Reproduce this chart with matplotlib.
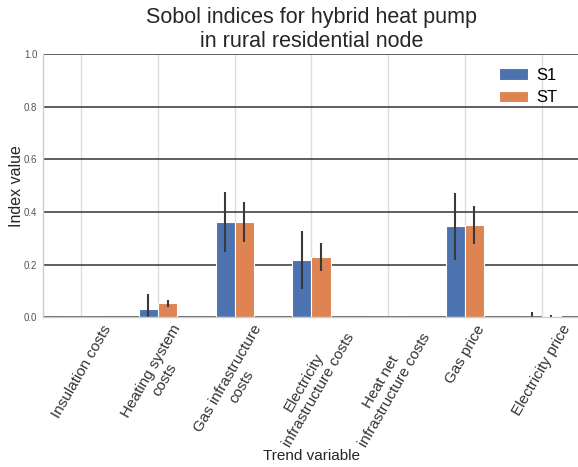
import numpy as np
import matplotlib
matplotlib.use("Agg")
import matplotlib.pyplot as plt

categories = ["Insulation costs", "Heating system\ncosts", "Gas infrastructure\ncosts",
              "Electricity\ninfrastructure costs", "Heat net\ninfrastructure costs",
              "Gas price", "Electricity price"]
s1 = [0.0, 0.032, 0.362, 0.217, 0.0, 0.345, 0.001]
s1_err = [0.0, 0.055, 0.114, 0.109, 0.0, 0.126, 0.019]
st = [0.0, 0.052, 0.362, 0.229, 0.0, 0.349, 0.004]
st_err = [0.0, 0.014, 0.077, 0.052, 0.0, 0.072, 0.003]
yticks = [0.0, 0.2, 0.4, 0.6, 0.8, 1.0]

plt.rcParams['font.family'] = ['Liberation Sans', 'DejaVu Sans']

fig = plt.figure(figsize=(5.78, 4.67), dpi=100)
ax = fig.add_axes([0.0744, 0.321, 0.929, 0.563])

x = np.arange(len(categories))
w = 0.25
ekw = dict(ecolor='#3a3a3a', elinewidth=1.5, capsize=0, zorder=2.2)
ax.bar(x - w / 2, s1, w, yerr=s1_err, color='#4C72B0', edgecolor='white', linewidth=0.8,
       label='S1', error_kw=ekw, zorder=2)
ax.bar(x + w / 2, st, w, yerr=st_err, color='#DD8452', edgecolor='white', linewidth=0.8,
       label='ST', error_kw=ekw, zorder=2)

ax.set_xlim(-0.5, len(categories) - 0.5)
ax.set_ylim(0, 1.0)
ax.set_yticks(yticks)
ax.set_yticklabels([f"{v:.1f}" for v in yticks], fontsize=7, color='#555555')
ax.set_xticks(x)
ax.set_xticklabels(categories, rotation=60, ha='center', fontsize=11, color='#333333',
                   multialignment='center')
ax.tick_params(length=0, pad=4)

ax.set_axisbelow(True)
ax.xaxis.grid(True, color='#dddddd', linewidth=1)
ax.yaxis.grid(True, color='#333333', linewidth=1.1)

for side in ['top', 'right']:
    ax.spines[side].set_visible(False)
for side in ['left', 'bottom']:
    ax.spines[side].set_color('#cccccc')
    ax.spines[side].set_linewidth(1)
    ax.spines[side].set_zorder(3)

ax.set_title("Sobol indices for hybrid heat pump\nin rural residential node", fontsize=15.5,
             color='#262626', linespacing=1.2, pad=5)
ax.set_ylabel("Index value", fontsize=11.5, color='#262626', labelpad=0)
ax.set_xlabel("Trend variable", fontsize=11, color='#262626', labelpad=0)

ax.legend(loc='upper right', frameon=False, fontsize=12, handlelength=1.75,
          handletextpad=0.45, labelspacing=0.45, bbox_to_anchor=(0.985, 1.005))

fig.savefig("out.png", dpi=100)
